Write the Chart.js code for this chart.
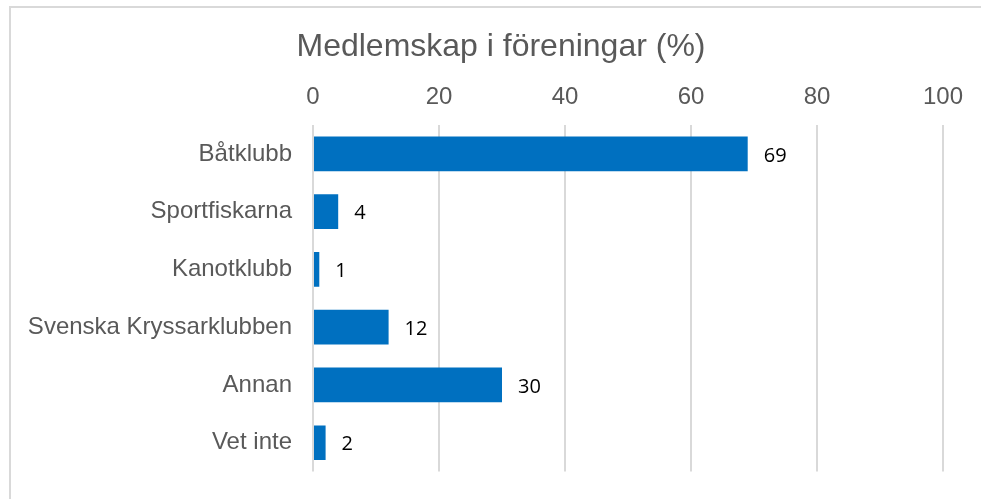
<!DOCTYPE html>
<html lang="sv">
<head>
    <meta charset="UTF-8">
    <title>Medlemskap i föreningar</title>
    <script src="https://cdnjs.cloudflare.com/ajax/libs/Chart.js/4.4.1/chart.umd.min.js"></script>
    <style>
        body {
            margin: 0;
            padding: 0;
            background: #fff;
        }
        .chart-box {
            width: 981px;
            height: 499px;
        }
    </style>
</head>
<body>
    <div class="chart-box">
        <canvas id="memberChart" width="981" height="499"></canvas>
    </div>

    <script>
        const chartTitle = 'Medlemskap i föreningar (%)';
        const categories = ['Båtklubb', 'Sportfiskarna', 'Kanotklubb', 'Svenska Kryssarklubben', 'Annan', 'Vet inte'];
        const shares = [69, 4, 1, 12, 30, 2];
        const xTicks = [0, 20, 40, 60, 80, 100];

        // frame lines + title drawn by hand so the title can sit where the original does
        const framePlugin = {
            id: 'frame',
            beforeDraw(chart) {
                const ctx = chart.ctx;
                ctx.save();
                ctx.strokeStyle = '#d9d9d9';
                ctx.lineWidth = 2;
                ctx.beginPath();
                ctx.moveTo(10, 499);
                ctx.lineTo(10, 7);
                ctx.lineTo(981, 7);
                ctx.stroke();
                ctx.fillStyle = '#595959';
                ctx.font = '32px "Liberation Sans", Arial, sans-serif';
                ctx.textAlign = 'center';
                ctx.textBaseline = 'middle';
                ctx.fillText(chartTitle, 501, 47);
                ctx.restore();
            }
        };

        const valueLabels = {
            id: 'valueLabels',
            afterDatasetsDraw(chart) {
                const ctx = chart.ctx;
                const meta = chart.getDatasetMeta(0);
                ctx.save();
                ctx.fillStyle = '#000';
                ctx.font = '20px "Open Sans", sans-serif';
                ctx.textAlign = 'left';
                ctx.textBaseline = 'middle';
                meta.data.forEach((bar, i) => {
                    ctx.fillText(shares[i], bar.x + 16, bar.y + 2);
                });
                ctx.restore();
            }
        };

        new Chart(document.getElementById('memberChart'), {
            type: 'bar',
            data: {
                labels: categories,
                datasets: [{
                    data: shares,
                    backgroundColor: '#0070c0',
                    borderWidth: 0,
                    categoryPercentage: 0.6,
                    barPercentage: 1
                }]
            },
            options: {
                indexAxis: 'y',
                responsive: false,
                animation: false,
                layout: {
                    padding: { left: 0, right: 38, top: 71, bottom: 25 }
                },
                plugins: {
                    legend: { display: false },
                    title: { display: false },
                    tooltip: { enabled: false }
                },
                scales: {
                    x: {
                        position: 'top',
                        min: 0,
                        max: 100,
                        afterBuildTicks(scale) {
                            scale.ticks = xTicks.map(v => ({ value: v }));
                        },
                        afterFit(scale) {
                            scale.height = 54;
                        },
                        border: { display: false },
                        grid: {
                            color: '#d9d9d9',
                            lineWidth: 2,
                            drawTicks: false
                        },
                        ticks: {
                            color: '#595959',
                            padding: 13,
                            font: { family: '"Liberation Sans", Arial, sans-serif', size: 24 }
                        }
                    },
                    y: {
                        afterFit(scale) {
                            scale.width = 313;
                        },
                        border: { display: false },
                        grid: { display: false },
                        ticks: {
                            color: '#595959',
                            padding: 13,
                            font: { family: '"Liberation Sans", Arial, sans-serif', size: 24 }
                        }
                    }
                }
            },
            plugins: [framePlugin, valueLabels]
        });
    </script>
</body>
</html>
